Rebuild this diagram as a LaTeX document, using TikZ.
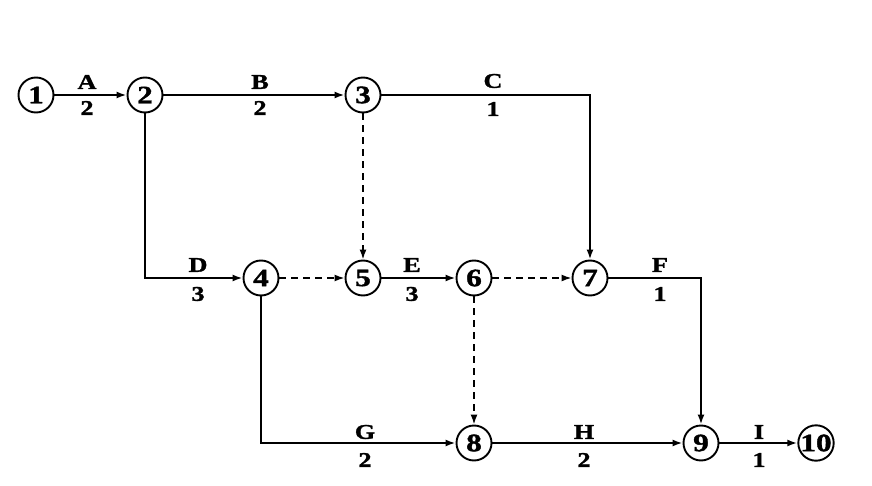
\documentclass[tikz,border=0pt]{standalone}
\usepackage{fontspec}
\setmainfont{Liberation Serif}
\newfontfamily\widefont[FakeStretch=1.25,FakeBold=1.5]{Liberation Serif}
\usetikzlibrary{arrows.meta}
\begin{document}
\begin{tikzpicture}[x=1pt,y=-1pt,
  ev/.style={circle,draw,line width=1.9pt,minimum size=35pt,inner sep=0pt,font=\widefont\fontsize{25}{25}\selectfont\bfseries},
  act/.style={line width=1.9pt,-{Latex[length=10pt,width=7pt]}},
  dum/.style={line width=1.6pt,dash pattern=on 7pt off 5pt,-{Latex[length=10pt,width=7pt]}},
  lab/.style={font=\widefont\fontsize{21}{21}\selectfont\bfseries,inner sep=0pt}]
\useasboundingbox (0,0) rectangle (872,486);
\node[ev] (n1) at (36,95) {1};
\node[ev] (n2) at (145,95) {2};
\node[ev] (n3) at (363,95) {3};
\node[ev] (n4) at (261,278) {4};
\node[ev] (n5) at (363,278) {5};
\node[ev] (n6) at (474,278) {6};
\node[ev] (n7) at (590,278) {7};
\node[ev] (n8) at (474,443) {8};
\node[ev] (n9) at (701,443) {9};
\node[ev] (n10) at (816,443) {10};
\coordinate (cC) at (590,95);
\coordinate (cD) at (145,278);
\coordinate (cF) at (701,278);
\coordinate (cG) at (261,443);
% activities
\draw[act] (n1) -- (n2);
\draw[act] (n2) -- (n3);
\draw[act] (n3) -- (cC) -- (n7);
\draw[act] (n2) -- (cD) -- (n4);
\draw[act] (n5) -- (n6);
\draw[act] (n7) -- (cF) -- (n9);
\draw[act] (n4) -- (cG) -- (n8);
\draw[act] (n8) -- (n9);
\draw[act] (n9) -- (n10);
% dummies
\draw[dum] (n3) -- (n5);
\draw[dum] (n4) -- (n5);
\draw[dum] (n6) -- (n7);
\draw[dum] (n6) -- (n8);
% labels
\node[lab] (lA) at (87,82) {A};   \node[lab] (vA) at (87,108) {2};
\node[lab] (lB) at (260,82) {B};  \node[lab] (vB) at (260,108) {2};
\node[lab] (lC) at (493,81) {C};  \node[lab] (vC) at (493,109) {1};
\node[lab] (lD) at (198,265) {D}; \node[lab] (vD) at (198,294) {3};
\node[lab] (lE) at (412,265) {E}; \node[lab] (vE) at (412,294) {3};
\node[lab] (lF) at (660,265) {F}; \node[lab] (vF) at (660,294) {1};
\node[lab] (lG) at (365,432) {G}; \node[lab] (vG) at (365,460) {2};
\node[lab] (lH) at (584,432) {H}; \node[lab] (vH) at (584,460) {2};
\node[lab] (lI) at (759,432) {I}; \node[lab] (vI) at (759,460) {1};
\end{tikzpicture}
\end{document}
